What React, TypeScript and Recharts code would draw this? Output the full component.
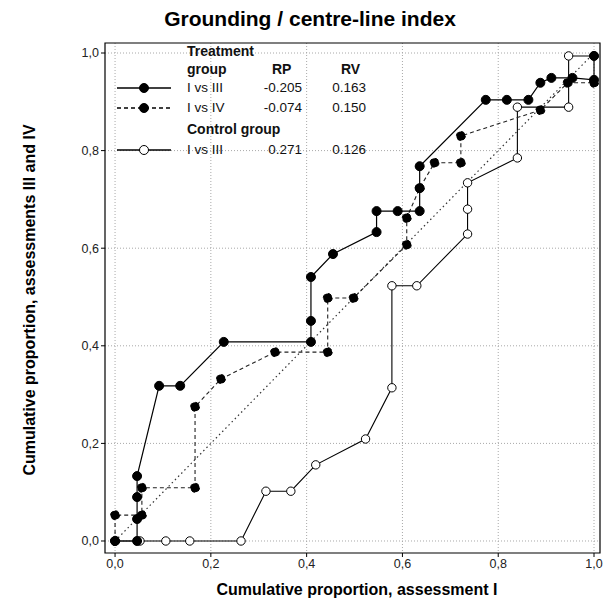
import { LineChart, Line, XAxis, YAxis, CartesianGrid, ReferenceArea } from "recharts"

const ticks = [0, 0.2, 0.4, 0.6, 0.8, 1.0]

// Treatment group, assessment I vs III
const treatIII = [
  { x: 0, y: 0 }, { x: 0.046, y: 0 }, { x: 0.046, y: 0.045 }, { x: 0.046, y: 0.09 },
  { x: 0.046, y: 0.133 }, { x: 0.092, y: 0.318 }, { x: 0.136, y: 0.318 }, { x: 0.227, y: 0.408 },
  { x: 0.409, y: 0.408 }, { x: 0.409, y: 0.451 }, { x: 0.409, y: 0.541 }, { x: 0.455, y: 0.588 },
  { x: 0.546, y: 0.633 }, { x: 0.546, y: 0.676 }, { x: 0.59, y: 0.676 }, { x: 0.636, y: 0.676 },
  { x: 0.636, y: 0.723 }, { x: 0.636, y: 0.768 }, { x: 0.774, y: 0.904 }, { x: 0.818, y: 0.904 },
  { x: 0.863, y: 0.904 }, { x: 0.888, y: 0.939 }, { x: 0.911, y: 0.949 }, { x: 0.955, y: 0.949 },
  { x: 1.0, y: 0.945 }, { x: 1.0, y: 0.994 },
]

// Treatment group, assessment I vs IV
const treatIV = [
  { x: 0, y: 0 }, { x: 0, y: 0.053 }, { x: 0.056, y: 0.053 }, { x: 0.056, y: 0.109 },
  { x: 0.167, y: 0.109 }, { x: 0.167, y: 0.275 }, { x: 0.221, y: 0.332 }, { x: 0.334, y: 0.387 },
  { x: 0.444, y: 0.387 }, { x: 0.444, y: 0.498 }, { x: 0.498, y: 0.498 }, { x: 0.609, y: 0.607 },
  { x: 0.609, y: 0.662 }, { x: 0.636, y: 0.723 }, { x: 0.667, y: 0.775 }, { x: 0.722, y: 0.775 },
  { x: 0.722, y: 0.83 }, { x: 0.888, y: 0.883 }, { x: 0.945, y: 0.939 }, { x: 1.0, y: 0.939 },
]

// Control group, assessment I vs III
const controlIII = [
  { x: 0, y: 0 }, { x: 0.052, y: 0 }, { x: 0.106, y: 0 }, { x: 0.156, y: 0 }, { x: 0.263, y: 0 },
  { x: 0.315, y: 0.102 }, { x: 0.367, y: 0.102 }, { x: 0.419, y: 0.156 }, { x: 0.523, y: 0.209 },
  { x: 0.578, y: 0.314 }, { x: 0.578, y: 0.523 }, { x: 0.63, y: 0.523 }, { x: 0.736, y: 0.629 },
  { x: 0.736, y: 0.68 }, { x: 0.736, y: 0.734 }, { x: 0.84, y: 0.785 }, { x: 0.84, y: 0.889 },
  { x: 0.947, y: 0.889 }, { x: 0.947, y: 0.994 }, { x: 1.0, y: 0.994 },
]

const diagonal = [{ x: 0, y: 0 }, { x: 1, y: 1 }]

const legendRows = [
  { label: "I vs III", rp: "-0.205", rv: "0.163", dash: undefined as string | undefined, open: false },
  { label: "I vs IV", rp: "-0.074", rv: "0.150", dash: "4 3", open: false },
  { label: "I vs III", rp: "0.271", rv: "0.126", dash: undefined as string | undefined, open: true },
]

const xDomain = [-0.021, 1.0125]
const yDomain = [-0.0246, 1.0205]
const font = "'Liberation Sans', Arial, sans-serif"
const fmt = (v: number) => v.toFixed(1).replace(".", ",")

function LegendSample({ dash, open }: { dash?: string; open: boolean }) {
  return (
    <svg width={56} height={12} style={{ position: "absolute", left: 0, top: 0 }}>
      <line x1={1} y1={6} x2={55} y2={6} stroke="#000" strokeWidth={1.4} strokeDasharray={dash} />
      <circle cx={28} cy={6} r={4.5} fill={open ? "#fff" : "#000"} stroke="#000" strokeWidth={1} />
    </svg>
  )
}

export default function App() {
  const rowY = [82, 102, 144]
  const nw = { whiteSpace: "nowrap" as const }
  return (
    <div style={{ position: "absolute", left: 0, top: 0, width: 604, height: 605, background: "#fff", fontFamily: font }}>
      <LineChart width={604} height={605} data={diagonal} margin={{ top: 43, right: 4, left: 0, bottom: 0 }}>
        <CartesianGrid stroke="#a8a8a8" strokeDasharray="1 2" horizontalValues={ticks} verticalValues={ticks} />
        <XAxis
          dataKey="x"
          type="number"
          domain={xDomain}
          ticks={ticks}
          allowDataOverflow
          tickFormatter={fmt}
          height={52}
          axisLine={false}
          tickSize={4}
          tickLine={{ stroke: "#000" }}
          tick={{ fill: "#222", fontSize: 12.5, fontFamily: font }}
        />
        <YAxis
          dataKey="y"
          type="number"
          domain={yDomain}
          ticks={ticks}
          allowDataOverflow
          tickFormatter={fmt}
          width={105}
          axisLine={false}
          tickSize={4}
          tickLine={{ stroke: "#000" }}
          tick={{ fill: "#222", fontSize: 12.5, fontFamily: font }}
        />
        <ReferenceArea x1={xDomain[0]} x2={xDomain[1]} y1={yDomain[0]} y2={yDomain[1]} fill="none" stroke="#000" strokeWidth={1.2} ifOverflow="visible" />
        <Line data={diagonal} dataKey="y" stroke="#333" strokeWidth={1.2} strokeDasharray="1.5 3" dot={false} isAnimationActive={false} />
        <Line data={controlIII} dataKey="y" stroke="#000" strokeWidth={1.1} dot={{ r: 4.2, fill: "#fff", stroke: "#000", strokeWidth: 1 }} isAnimationActive={false} />
        <Line data={treatIV} dataKey="y" stroke="#222" strokeWidth={1.1} strokeDasharray="4 3" dot={{ r: 4.5, fill: "#000", stroke: "#000", strokeWidth: 1 }} isAnimationActive={false} />
        <Line data={treatIII} dataKey="y" stroke="#000" strokeWidth={1.2} dot={{ r: 4.5, fill: "#000", stroke: "#000", strokeWidth: 1 }} isAnimationActive={false} />
      </LineChart>

      <div style={{ position: "absolute", left: 0, width: 620, top: 7, textAlign: "center", fontWeight: "bold", fontSize: 21, ...nw }}>
        Grounding / centre-line index
      </div>
      <div style={{ position: "absolute", left: 105, width: 504, top: 581, textAlign: "center", fontWeight: "bold", fontSize: 16, ...nw }}>
        Cumulative proportion, assessment I
      </div>
      <div
        style={{
          position: "absolute", left: 30 - 200, top: 300 - 10, width: 400, height: 20, lineHeight: "20px",
          textAlign: "center", fontWeight: "bold", fontSize: 16, transform: "rotate(-90deg)", ...nw,
        }}
      >
        Cumulative proportion, assessments III and IV
      </div>

      <div style={{ position: "absolute", left: 0, top: 0, fontSize: 13.5, color: "#111" }}>
        <div style={{ position: "absolute", left: 187, top: 43, fontWeight: "bold", fontSize: 14, ...nw }}>Treatment</div>
        <div style={{ position: "absolute", left: 187, top: 61, fontWeight: "bold", fontSize: 14, ...nw }}>group</div>
        <div style={{ position: "absolute", left: 272, top: 61, fontWeight: "bold", fontSize: 14, ...nw }}>RP</div>
        <div style={{ position: "absolute", left: 341, top: 61, fontWeight: "bold", fontSize: 14, ...nw }}>RV</div>
        <div style={{ position: "absolute", left: 187, top: 121, fontWeight: "bold", fontSize: 14, ...nw }}>Control group</div>
        {legendRows.map((r, i) => (
          <div key={i} style={{ position: "absolute", left: 0, top: rowY[i] }}>
            <div style={{ position: "absolute", left: 116, top: 0, width: 56, height: 12 }}>
              <LegendSample dash={r.dash} open={r.open} />
            </div>
            <div style={{ position: "absolute", left: 187, top: -2, ...nw }}>{r.label}</div>
            <div style={{ position: "absolute", left: 240, width: 62, top: -2, textAlign: "right", ...nw }}>{r.rp}</div>
            <div style={{ position: "absolute", left: 310, width: 56, top: -2, textAlign: "right", ...nw }}>{r.rv}</div>
          </div>
        ))}
      </div>
    </div>
  )
}
